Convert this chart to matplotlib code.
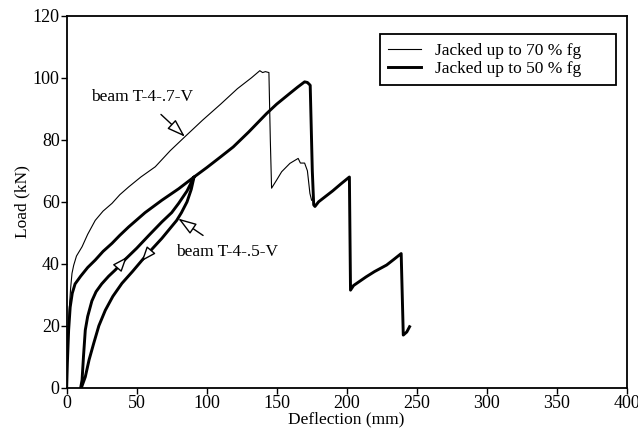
import matplotlib
matplotlib.use("Agg")
import matplotlib.pyplot as plt

# beam T-4-.7-V, jacked up to 70 % fg
defl_70 = [0, 0.2, 1, 1.8, 2.8, 3.8, 5, 7, 11, 15, 20.4, 26, 32.4, 38, 44.3, 53, 63.3,
           74, 84.5, 97, 110, 122, 132, 138, 140, 142, 144.5, 145.5, 146.4, 150, 153.6,
           159.5, 165.4, 167, 170, 172, 173.8, 175]
load_70 = [0, 5.7, 15, 25, 32, 36.9, 39.5, 42.5, 45.5, 49.5, 54, 57, 59.5, 62.3, 64.8, 68, 71.3,
           76.5, 81, 86.3, 91.5, 96.5, 100, 102.3, 101.7, 102, 101.7, 80, 64.4, 67, 69.7,
           72.4, 74, 72.5, 72.5, 70, 62.7, 60.5]

# beam T-4-.5-V, jacked up to 50 % fg (loading, unloading, reloading, failure)
defl_50 = [0, 0.5, 1.4, 2.5, 4, 6, 10, 15, 20.4, 26, 32.4, 38, 44.3, 56, 68, 80, 91,
           89, 86, 82, 78.6, 68, 56, 47, 39.5, 33, 27.6, 23, 19.3, 16, 13.3, 10.5,
           10, 11, 12, 13.3, 15, 18, 21, 25, 30, 34.7, 42, 50, 59, 68, 75, 80, 86, 91,
           100, 110, 119, 130, 142.9, 150, 159.5, 165, 170, 172, 174, 175.5, 176.5, 177.4,
           180, 190, 196, 202, 202.8, 205, 214, 220, 228.6, 234, 239, 240.5, 243, 245]
load_50 = [0, 8, 18.6, 26, 30.5, 33.5, 36, 38.8, 41.2, 44, 46.6, 49.2, 51.9, 56.5, 60.5, 64.2, 68,
           64, 60, 56.5, 54, 48.2, 42.3, 37.5, 33.7, 29.5, 25, 20, 14.3, 9, 3.5, 0,
           0, 2.5, 10, 18.6, 23, 28, 31, 33.5, 36, 38, 41.5, 45, 49.3, 53.5, 56.5, 59.5, 63.5, 68,
           71, 74.5, 77.7, 82.5, 88.5, 91.5, 95, 97, 98.7, 98.5, 97.6, 70, 59, 58.5,
           60, 63.5, 65.8, 68, 31.5, 33, 35.8, 37.5, 39.6, 41.5, 43.3, 17, 18, 19.7]

plt.rcParams["font.family"] = ["Liberation Serif", "DejaVu Serif"]

fig = plt.figure(figsize=(6.38, 4.28), dpi=100)
ax = fig.add_axes([0.1045, 0.094, 0.8775, 0.869])

pad = "\u00a0" * 6
ax.plot(defl_70, load_70, color="black", lw=0.8, label="Jacked up to 70 % fg" + pad)
ax.plot(defl_50, load_50, color="black", lw=2.1, label="Jacked up to 50 % fg" + pad)

ax.set_xlim(0, 400)
ax.set_ylim(0, 120)
ax.set_xticks(range(0, 401, 50))
ax.set_yticks(range(0, 121, 20))
ax.tick_params(direction="out", length=4, width=1, labelsize=13, pad=1)
for s in ax.spines.values():
    s.set_linewidth(1.3)

ax.set_xlabel("Deflection (mm)", fontsize=12.5, labelpad=0)
ax.set_ylabel("Load (kN)", fontsize=12.5, labelpad=2)

head = "-|>,head_length=0.9,head_width=0.3"
ax.annotate("beam T-4-.7-V", xy=(84.5, 81), xytext=(54, 93.8), fontsize=12.5,
            ha="center", va="center",
            arrowprops=dict(arrowstyle=head, fc="white", ec="black", lw=1,
                            shrinkA=7, shrinkB=0))
ax.annotate("beam T-4-.5-V", xy=(79.7, 54.6), xytext=(114.5, 43.9), fontsize=12.5,
            ha="center", va="center",
            arrowprops=dict(arrowstyle=head, fc="white", ec="black", lw=1,
                            shrinkA=7, shrinkB=0))

# direction marks on the reload / unload branches
ax.annotate("", xy=(43, 42.2), xytext=(37.5, 39.3),
            arrowprops=dict(arrowstyle="-|>,head_length=0.9,head_width=0.35",
                            fc="white", ec="black", lw=1, shrinkA=0, shrinkB=0))
ax.annotate("", xy=(53.5, 40.8), xytext=(59.5, 44),
            arrowprops=dict(arrowstyle="-|>,head_length=0.9,head_width=0.35",
                            fc="white", ec="black", lw=1, shrinkA=0, shrinkB=0))

leg = ax.legend(loc="upper right", bbox_to_anchor=(0.982, 0.951), borderaxespad=0,
                fontsize=12.5, handlelength=1.9, handletextpad=0.8, fancybox=False,
                edgecolor="black", framealpha=1, borderpad=0.5, labelspacing=0.1)
leg.get_frame().set_linewidth(1.3)

fig.savefig("out.png", dpi=100)
